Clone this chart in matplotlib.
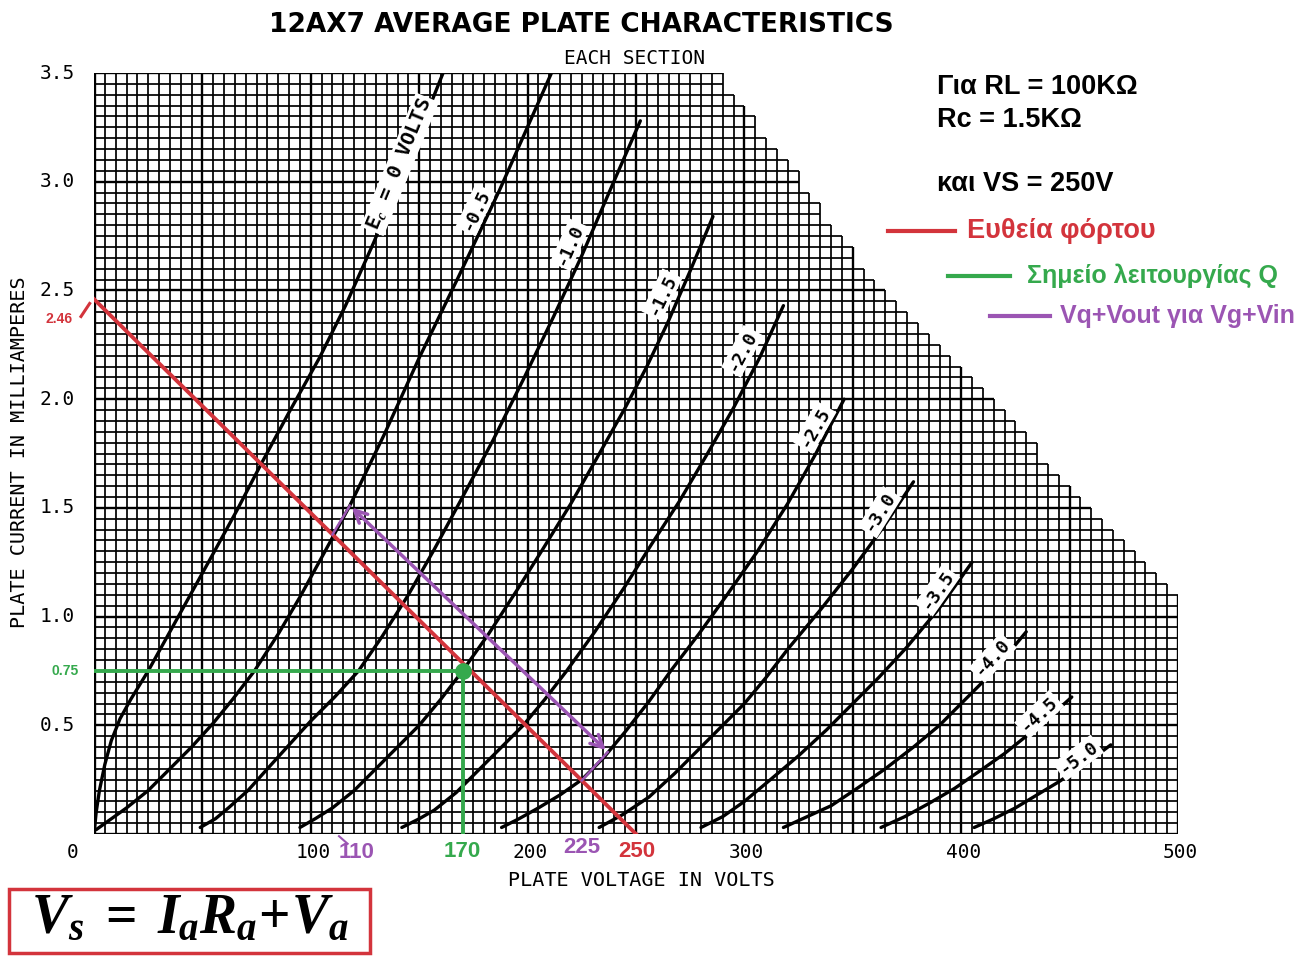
import numpy as np
import matplotlib.pyplot as plt
from matplotlib.lines import Line2D
from matplotlib.patches import Rectangle

# grid-bias curves: plate voltage (V) and plate current (mA)
ec_00_v = [0, 1, 2.5, 5, 8, 12, 17, 25, 40, 55, 66, 77, 90, 104, 116, 129, 145, 161]
ec_00_i = [0, 0.1, 0.2, 0.32, 0.43, 0.53, 0.62, 0.75, 1.02, 1.29, 1.49, 1.70, 1.94,
           2.19, 2.43, 2.72, 3.1, 3.5]
ec_05_v = [1, 8, 15, 25, 35, 45, 55, 64, 74, 85, 95, 106, 118, 134, 150, 168, 187, 211]
ec_05_i = [0.02, 0.07, 0.12, 0.2, 0.3, 0.4, 0.51, 0.62, 0.75, 0.92, 1.09, 1.29, 1.51,
           1.84, 2.19, 2.56, 2.96, 3.5]
ec_10_v = [49, 56, 62, 71, 80, 90, 100, 111, 122, 133, 145, 157, 170, 184, 198, 212,
           225, 238, 252]
ec_10_i = [0.03, 0.07, 0.12, 0.2, 0.3, 0.41, 0.52, 0.63, 0.75, 0.91, 1.1, 1.31, 1.55,
           1.81, 2.09, 2.38, 2.66, 2.96, 3.28]
ec_15_v = [95, 102, 110, 120, 130, 140, 150, 160, 170, 182, 195, 207, 220, 232, 245,
           255, 265, 275, 285.5]
ec_15_i = [0.03, 0.07, 0.12, 0.2, 0.3, 0.4, 0.5, 0.62, 0.75, 0.92, 1.12, 1.31, 1.52,
           1.73, 1.96, 2.15, 2.36, 2.59, 2.84]
ec_20_v = [142, 150, 157, 167, 178, 188, 198, 208, 218, 231, 245, 257, 270, 283, 295,
           307, 318]
ec_20_i = [0.03, 0.07, 0.11, 0.19, 0.3, 0.4, 0.5, 0.62, 0.75, 0.93, 1.14, 1.33, 1.53,
           1.75, 1.96, 2.19, 2.43]
ec_25_v = [188, 196, 205, 215, 225, 235, 245, 256, 266, 279, 292, 306, 320, 333, 346]
ec_25_i = [0.03, 0.07, 0.12, 0.18, 0.25, 0.35, 0.47, 0.61, 0.75, 0.92, 1.1, 1.3, 1.52,
           1.75, 2.0]
ec_30_v = [233, 244, 256, 268, 280, 290, 300, 310, 320, 335, 350, 364, 378]
ec_30_i = [0.03, 0.09, 0.17, 0.28, 0.4, 0.5, 0.6, 0.72, 0.85, 1.03, 1.22, 1.41, 1.62]
ec_35_v = [280, 290, 300, 312, 325, 338, 350, 362, 375, 390, 405]
ec_35_i = [0.03, 0.08, 0.15, 0.25, 0.36, 0.48, 0.6, 0.72, 0.86, 1.04, 1.25]
ec_40_v = [318, 329, 340, 352, 365, 378, 390, 400, 410, 420, 430]
ec_40_i = [0.03, 0.08, 0.13, 0.21, 0.3, 0.4, 0.5, 0.6, 0.7, 0.81, 0.93]
ec_45_v = [363, 374, 385, 397, 410, 420, 430, 441, 451]
ec_45_i = [0.03, 0.08, 0.14, 0.21, 0.3, 0.37, 0.45, 0.54, 0.63]
ec_50_v = [406, 415, 425, 435, 445, 457, 469]
ec_50_i = [0.03, 0.07, 0.12, 0.18, 0.24, 0.32, 0.41]
curve_labels = ["E$_c$ = 0 VOLTS", "-0.5", "-1.0", "-1.5", "-2.0", "-2.5",
                "-3.0", "-3.5", "-4.0", "-4.5", "-5.0"]

# outline of the printed grid (upper right corner is cut away)
edge_v = [290, 325, 360, 390, 435, 500]
edge_i = [3.5, 3.05, 2.57, 2.25, 1.80, 1.12]

# load line and operating point
load_v = [0, 250]
load_i = [2.46, 0]
q_v, q_i = 170, 0.75
swing_v = [110, 225]
arrow_v = [118, 237]
arrow_i = [1.51, 0.377]

x_ticks = [0, 100, 200, 300, 400, 500]
y_ticks = [0.5, 1.0, 1.5, 2.0, 2.5, 3.0, 3.5]

RED = "#d3343c"
GREEN = "#35a94d"
PURPLE = "#9b55b3"
MONO = "DejaVu Sans Mono"

plt.rcParams["mathtext.fontset"] = "custom"
plt.rcParams["mathtext.rm"] = "Liberation Serif:bold"
plt.rcParams["mathtext.it"] = "Liberation Serif:italic:bold"

W, H = 1301, 956
fig = plt.figure(figsize=(W / 100, H / 100), dpi=100)
ax = fig.add_axes([94 / W, 1 - 834 / H, (1178 - 94) / W, (834 - 73) / H])
ax.set_xlim(0, 500)
ax.set_ylim(0, 3.5)
ax.axis("off")


def fx(x, y):
    return x / W, 1 - y / H


# staircase grid, 5 V x 0.05 mA
def top_at(v):
    return np.interp(v, edge_v, edge_i)


def right_at(i):
    return np.interp(i, edge_i[::-1], edge_v[::-1])


for k in range(0, 101):
    v = k * 5
    top = np.floor(top_at(v) / 0.05 + 1e-6) * 0.05
    lw = 2.4 if k == 0 else (1.7 if k % 10 == 0 else 1.25)
    ax.plot([v, v], [0, top], color="black", lw=lw, solid_capstyle="butt", zorder=1)
for k in range(0, 71):
    i = k * 0.05
    right = np.floor(right_at(i) / 5 + 1e-6) * 5
    lw = 2.4 if k == 0 else (1.7 if k % 10 == 0 else 1.25)
    ax.plot([0, right], [i, i], color="black", lw=lw, solid_capstyle="butt", zorder=1)

curves = [(ec_00_v, ec_00_i), (ec_05_v, ec_05_i), (ec_10_v, ec_10_i),
          (ec_15_v, ec_15_i), (ec_20_v, ec_20_i), (ec_25_v, ec_25_i),
          (ec_30_v, ec_30_i), (ec_35_v, ec_35_i), (ec_40_v, ec_40_i),
          (ec_45_v, ec_45_i), (ec_50_v, ec_50_i)]
for v, i in curves:
    ax.plot(v, i, color="black", lw=2.4, zorder=3, solid_capstyle="round",
            solid_joinstyle="round")

# curve labels sit on the curves with a white patch
label_spots = [(141, 3.08, 67.5, 14.5), (176, 2.87, 65, 13), (219.5, 2.71, 66, 13),
               (262, 2.48, 64, 13), (299, 2.22, 62, 13), (332.5, 1.87, 60, 13),
               (362.5, 1.48, 58, 13), (389, 1.12, 55, 13), (414.5, 0.81, 48, 13),
               (436, 0.55, 43, 13), (454, 0.35, 37, 13)]
for text, (v, i, ang, fs) in zip(curve_labels, label_spots):
    ax.text(v, i, text, rotation=ang, rotation_mode="anchor", ha="center", va="center",
            family=MONO, fontweight="bold", fontsize=fs, zorder=4,
            bbox=dict(fc="white", ec="none", pad=1.5))

# load line, Q point, output swing
ax.plot(load_v, load_i, color=RED, lw=2.8, zorder=5)
ax.plot([-6, -2], [2.38, 2.44], color=RED, lw=2.2, clip_on=False)
ax.plot([0, q_v], [q_i, q_i], color=GREEN, lw=2.8, zorder=5)
ax.plot([q_v, q_v], [q_i, 0], color=GREEN, lw=2.8, zorder=5)
ax.plot([q_v], [q_i], "o", color=GREEN, ms=11, zorder=6)

ax.annotate("", xy=(arrow_v[0], arrow_i[0]), xytext=(arrow_v[1], arrow_i[1]),
            arrowprops=dict(arrowstyle="<->", color=PURPLE, lw=2.5, mutation_scale=22),
            zorder=6)
for sv, av, ai in zip(swing_v, arrow_v, arrow_i):
    li = np.interp(sv, load_v, load_i)
    ax.plot([sv, av], [li, ai], color=PURPLE, lw=1.8, zorder=6)
ax.plot([113, 117], [-0.01, -0.045], color=PURPLE, lw=1.5, clip_on=False)

# axis numbers
for v in x_ticks:
    pos = v - 10 if v == 0 else v + 1
    ax.text(pos, -0.087, str(v), ha="center", va="center", family=MONO, fontsize=14,
            clip_on=False)
for i in y_ticks:
    ax.text(-17, i, f"{i:.1f}", ha="center", va="center", family=MONO, fontsize=14,
            clip_on=False)

ax.text(-16, 2.37, "2.46", ha="center", va="center", color=RED, fontsize=10,
        family="Liberation Sans", fontweight="bold", clip_on=False)
ax.text(-13.5, q_i, f"{q_i:.2f}", ha="center", va="center", color=GREEN, fontsize=10,
        family="Liberation Sans", fontweight="bold", clip_on=False)
ax.text(q_v, -0.082, str(q_v), ha="center", va="center", color=GREEN, fontsize=16,
        family="Liberation Sans", fontweight="bold", clip_on=False)
ax.text(swing_v[0] + 11, -0.087, str(swing_v[0]), ha="center", va="center", color=PURPLE,
        fontsize=16, family="Liberation Sans", fontweight="bold", clip_on=False)
ax.text(swing_v[1], -0.064, str(swing_v[1]), ha="center", va="center", color=PURPLE,
        fontsize=16, family="Liberation Sans", fontweight="bold", clip_on=False)
ax.text(load_v[1] + 0.5, -0.082, str(load_v[1]), ha="center", va="center", color=RED,
        fontsize=16, family="Liberation Sans", fontweight="bold", clip_on=False)

# titles
fig.text(*fx(581, 25), "12AX7 AVERAGE PLATE CHARACTERISTICS", ha="center", va="center",
         fontsize=19, fontweight="bold", family="DejaVu Sans")
fig.text(*fx(635, 58), "EACH SECTION", ha="center", va="center", family=MONO, fontsize=14)
fig.text(*fx(641, 880), "PLATE VOLTAGE IN VOLTS", ha="center", va="center",
         family=MONO, fontsize=14.5)
fig.text(*fx(20, 452), "PLATE CURRENT IN MILLIAMPERES", ha="center", va="center",
         rotation=90, family=MONO, fontsize=14.5)

# circuit values and legend
for y, s in [(87, "Για RL = 100KΩ"), (120, "Rc = 1.5KΩ"), (184, "και VS = 250V")]:
    fig.text(*fx(937, y), s, ha="left", va="center", fontsize=19.5, fontweight="bold",
             family="Liberation Sans")
legend_rows = [(888, 955, 967, 231, "Ευθεία φόρτου", RED, 19.5),
               (948, 1010, 1027, 276, "Σημείο λειτουργίας Q", GREEN, 18),
               (990, 1050, 1060, 316, "Vq+Vout για Vg+Vin", PURPLE, 18)]
for x0, x1, xt, y, s, c, fs in legend_rows:
    fig.add_artist(Line2D([x0 / W, x1 / W], [1 - y / H, 1 - y / H], color=c, lw=3,
                          transform=fig.transFigure))
    fig.text(*fx(xt, y), s, ha="left", va="center", color=c, fontsize=fs,
             fontweight="bold", family="Liberation Sans")

# formula box
fig.add_artist(Rectangle(fx(9, 953), 361 / W, 64 / H, transform=fig.transFigure,
                         fill=False, ec=RED, lw=2.5))
fig.text(*fx(190, 918), r"$V_s\;=\;I_aR_a\!+\!V_a$", ha="center", va="center",
         fontsize=40)

fig.savefig("out.png", dpi=100, facecolor="white")
